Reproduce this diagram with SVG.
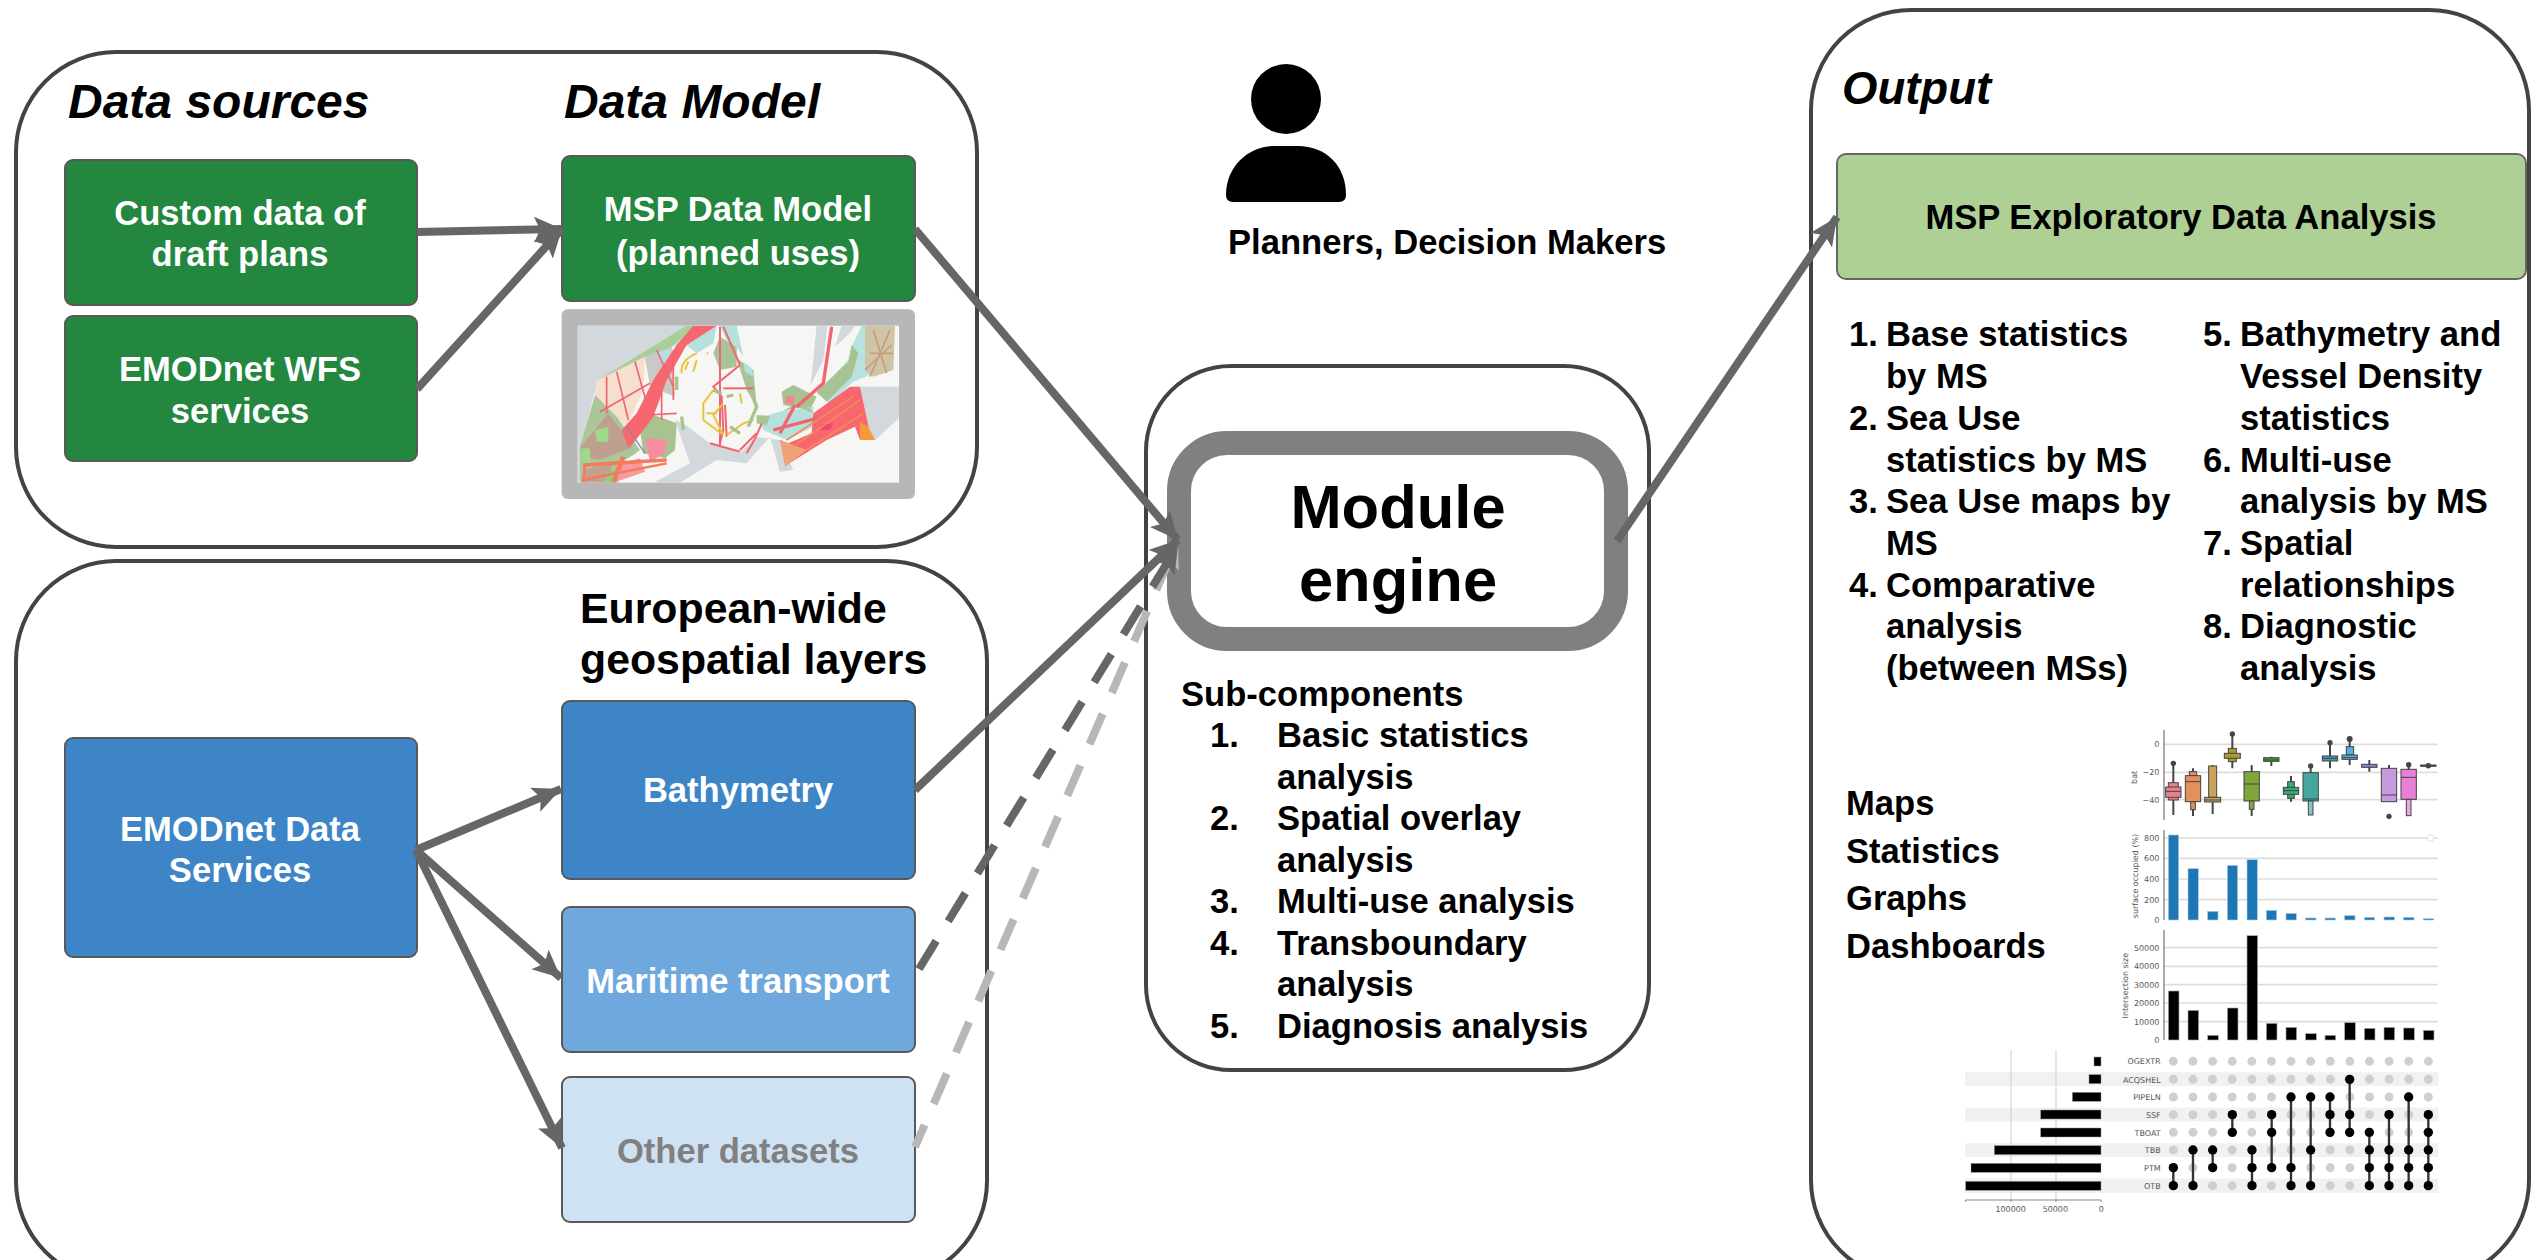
<svg xmlns="http://www.w3.org/2000/svg" width="2547" height="1260" viewBox="0 0 2547 1260">
<style>
text{font-family:"Liberation Sans",Arial,sans-serif;font-weight:700;fill:#000}
.t{font-size:34.6px}
.w{fill:#fff;font-size:34.6px;text-anchor:middle}
.h{font-size:48px;font-style:italic}
.e{font-size:42.8px}
.p{fill:#fff;stroke:#434343;stroke-width:4}
.n{stroke:#595959;stroke-width:2}
.c{fill:none;stroke:#666;stroke-width:8}
.d,.d text{font-family:"DejaVu Sans",sans-serif;font-weight:400;fill:#555}
.g{stroke:#ddd;stroke-width:5;fill:none}
.b{stroke:#444;stroke-width:3}
.m{fill:none;stroke:#f0656f}
</style>
<defs>
<marker id="a" markerUnits="userSpaceOnUse" markerWidth="32" markerHeight="32" refX="28" refY="13" orient="auto"><path d="M28,13 L0,0 L6,13 L0,26 Z" fill="#666"/></marker>
<marker id="l" markerUnits="userSpaceOnUse" markerWidth="32" markerHeight="32" refX="28" refY="13" orient="auto"><path d="M28,13 L0,0 L6,13 L0,26 Z" fill="#b7b7b7"/></marker>
<filter id="bl" x="-5%" y="-5%" width="110%" height="110%"><feGaussianBlur stdDeviation="2.2"/></filter>
<filter id="bc" x="-2%" y="-2%" width="104%" height="104%"><feGaussianBlur stdDeviation="0.45"/></filter>
<clipPath id="mc"><rect x="113" y="107" width="964" height="471"/></clipPath>
</defs>
<g id="panel-sources"><rect class="p" x="16" y="52" width="961" height="495" rx="100"/></g>
<g id="panel-layers"><rect class="p" x="16" y="561" width="971" height="720" rx="100"/></g>
<g id="panel-module"><rect class="p" x="1146" y="366" width="503" height="704" rx="85"/></g>
<g id="panel-output"><rect class="p" x="1811" y="10" width="718" height="1270" rx="100"/></g>

<g id="title-sources"><text class="h" x="68" y="118">Data sources</text></g>
<g id="title-model"><text class="h" x="564" y="118">Data Model</text></g>
<g id="title-layers"><text class="e" x="580" y="623">European-wide</text><text class="e" x="580" y="674">geospatial layers</text></g>
<g id="title-output"><text class="h" x="1842" y="104" style="font-size:45.5px">Output</text></g>

<g id="node-custom"><rect class="n" x="65" y="160" width="352" height="145" rx="8" fill="#23873f"/><text class="w" x="240" y="225">Custom data of</text><text class="w" x="240" y="266">draft plans</text></g>
<g id="node-wfs"><rect class="n" x="65" y="316" width="352" height="145" rx="8" fill="#23873f"/><text class="w" x="240" y="381">EMODnet WFS</text><text class="w" x="240" y="423">services</text></g>
<g id="node-msp"><rect class="n" x="562" y="156" width="353" height="145" rx="8" fill="#23873f"/><text class="w" x="738" y="221">MSP Data Model</text><text class="w" x="738" y="265">(planned uses)</text></g>

<g id="node-map" transform="translate(540 290) scale(.33333)">
<rect x="65" y="58" width="1060" height="569" rx="18" fill="#b7b7b7"/>
<rect x="113" y="107" width="964" height="471" fill="#f6f6f4"/>
<g clip-path="url(#mc)"><g filter="url(#bl)">
<path d="M113,107H470L180,265L160,320L125,460L113,500Z" fill="#d2d8dc"/>
<path d="M113,460L125,470V578H113Z" fill="#d2d8dc"/>
<path d="M960,290H1077V385L1005,450L990,430Z" fill="#d2d8dc"/>
<path d="M405,390L450,520L340,578H420L530,510L620,520L690,440L720,545L760,540L720,450L650,440L600,490L510,460L430,400Z" fill="#d2d8dc"/>
<path d="M830,107L812,285L850,210L862,107Z" fill="#d2d8dc"/>
<path d="M905,107L885,170L930,130L945,107Z" fill="#d2d8dc"/>
<path d="M170,270L315,200L310,300L250,430L225,400L165,320Z" fill="#f7dfcf"/>
<path d="M170,272L440,107H475L320,230L315,200Z" fill="#a9cf98"/>
<path d="M315,200L395,170L405,320L330,290Z" fill="#c9c9c5"/>
<path d="M350,190L390,175V240L370,235Z" fill="#b5dfe6"/>
<path d="M395,175L420,150L470,190L520,160L530,107H480L420,160Z" fill="#b5e0dc"/>
<path d="M120,470L165,315L230,380L300,480L280,495L140,578H120Z" fill="#a9c79a"/>
<path d="M122,470L205,370L280,470L180,510L130,500Z" fill="#bfa08e"/>
<path d="M165,420L205,410V455L170,455Z" fill="#9ed98e"/>
<path d="M125,475H150V520H125Z" fill="#9ed98e"/>
<path d="M300,360L410,400L405,480L375,505L310,490L300,420Z" fill="#a8c390"/>
<path d="M315,445L380,450L375,490L330,515Z" fill="#f58fa0"/>
<path d="M225,525L300,505L315,545L220,578Z" fill="#f59aa0"/>
<path d="M130,540L220,515L210,578H135Z" fill="#c4a08e"/>
<path d="M190,578L225,525L235,578Z" fill="#8cd07f"/>
<path d="M245,420L290,370L340,270L410,165L460,107H530L440,165L380,270L340,380L280,460L265,470Z" fill="#f8666f"/>
<path d="M520,190L540,140L590,170L590,230L540,240Z" fill="#a8c39a"/>
<path d="M540,107H590L610,200L590,170L560,150Z" fill="#b5e0dc"/>
<path d="M590,205L640,240L650,350L620,300Z" fill="#a8c39a"/>
<path d="M610,215L635,235L640,260L615,245Z" fill="#b5e0dc"/>
<path d="M830,310L925,210L935,170L965,107H1000L1000,250L940,275L870,340Z" fill="#b7e2dd"/>
<path d="M830,305L925,215L935,165L955,190L935,260L860,335Z" fill="#a7c293"/>
<path d="M975,107H1065L1060,240L1000,260L975,240Z" fill="#cfc4a8"/>
<path d="M725,305L760,285L830,320L810,360L730,345Z" fill="#a7c293"/>
<path d="M738,320L765,315L760,345L735,340Z" fill="#ee8a8f"/>
<path d="M650,385L720,365L820,350L820,410L740,450L670,420Z" fill="#b5e0dc"/>
<path d="M650,375L690,378L680,405L650,400Z" fill="#a7c293"/>
<path d="M725,365L760,345L820,370L810,355L760,355Z" fill="#a7c293"/>
<path d="M745,460L815,430L820,370L930,290L960,290L990,430L1005,450L960,450L945,410L860,450L740,525L720,450Z" fill="#f8666f"/>
<path d="M720,450L800,480L735,530Z" fill="#efa278"/>
<path d="M840,405L880,400L870,420L845,420Z" fill="#f04770"/>
<path d="M960,395L985,410L1005,450L960,450Z" fill="#f59b3a"/>
<g class="m" stroke-width="5"><path d="M200,260V370"/><path d="M230,245L265,390"/><path d="M285,215L320,340"/><path d="M180,365L330,280"/><path d="M350,180L400,290"/><path d="M365,300V390"/><path d="M400,180V330"/><path d="M320,375L410,370"/></g>
<path d="M130,525L380,510" stroke="#f47a5c" stroke-width="10" fill="none"/>
<path d="M125,570L380,520" stroke="#f47a5c" stroke-width="7" fill="none"/>
<path d="M135,520L130,578" stroke="#f47a5c" stroke-width="8" fill="none"/>
<path d="M220,578L250,500" stroke="#f47a5c" stroke-width="14" fill="none"/>
<path d="M260,410L315,490" stroke="#7d8ca0" stroke-width="4" fill="none"/>
<g fill="none" stroke="#f0656f" stroke-width="6"><path d="M540,110V420L540,465"/><path d="M600,225L520,290L545,320L550,420L540,460"/><path d="M550,110L600,225"/><path d="M550,295H640"/><path d="M600,480L650,430"/><path d="M555,345L560,440"/><path d="M510,460L600,485"/></g>
<g fill="none" stroke="#e8c43c" stroke-width="6"><path d="M425,250Q420,210 470,190"/><path d="M470,210L460,245"/><path d="M500,190H505M435,240L445,215"/><path d="M520,300L490,340L490,390L550,435L520,375L550,340"/><path d="M560,435L610,400L640,390"/><path d="M600,310L605,340"/><path d="M500,370H530"/></g>
<g fill="none" stroke="#a9c389" stroke-width="10"><path d="M630,300L650,350L625,410"/><path d="M425,380L430,420"/><path d="M570,410L600,430"/><path d="M560,320L580,315"/><path d="M410,260V300"/><path d="M520,300L545,310"/></g>
<g fill="none" stroke="#f0656f" stroke-width="10"><path d="M720,430L765,345"/><path d="M700,420L830,385"/><path d="M770,350L850,280L875,110"/></g>
<g fill="none" stroke="#f58a55" stroke-width="5"><path d="M760,470L960,330"/><path d="M800,480L970,370"/><path d="M740,450L940,320"/><path d="M990,260L1050,120M1000,120L1040,250M990,190H1060M975,240L1055,165" stroke="#c79e78"/></g>
<path d="M620,490Q650,440 665,400" stroke="#f0656f" stroke-width="6" fill="none"/>
</g></g>
</g>

<g id="node-data"><rect class="n" x="65" y="738" width="352" height="219" rx="8" fill="#3d85c6"/><text class="w" x="240" y="841">EMODnet Data</text><text class="w" x="240" y="882">Services</text></g>
<g id="node-bathy"><rect class="n" x="562" y="701" width="353" height="178" rx="8" fill="#3d85c6"/><text class="w" x="738" y="802">Bathymetry</text></g>
<g id="node-maritime"><rect class="n" x="562" y="907" width="353" height="145" rx="8" fill="#6fa8dc"/><text class="w" x="738" y="993">Maritime transport</text></g>
<g id="node-other"><rect class="n" x="562" y="1077" width="353" height="145" rx="8" fill="#cfe2f3"/><text class="w" x="738" y="1163" style="fill:#808080">Other datasets</text></g>

<g id="node-people"><circle cx="1286" cy="99" r="35"/><path d="M1233,202Q1226,202 1226,195C1226,165 1250,146 1274,146H1298C1325,146 1346,165 1346,195Q1346,202 1339,202Z"/><text class="t" x="1228" y="254">Planners, Decision Makers</text></g>

<g id="node-engine"><rect x="1179" y="443" width="437" height="196" rx="48" fill="#fff" stroke="#808080" stroke-width="24"/><text x="1398" y="528" text-anchor="middle" style="font-size:61.5px">Module</text><text x="1398" y="601" text-anchor="middle" style="font-size:61.5px">engine</text></g>
<g id="list-sub">
<text class="t" x="1181" y="706">Sub-components</text>
<text class="t" x="1210" y="747">1.</text><text class="t" x="1277" y="747">Basic statistics</text><text class="t" x="1277" y="789">analysis</text>
<text class="t" x="1210" y="830">2.</text><text class="t" x="1277" y="830">Spatial overlay</text><text class="t" x="1277" y="872">analysis</text>
<text class="t" x="1210" y="913">3.</text><text class="t" x="1277" y="913">Multi-use analysis</text>
<text class="t" x="1210" y="955">4.</text><text class="t" x="1277" y="955">Transboundary</text><text class="t" x="1277" y="996">analysis</text>
<text class="t" x="1210" y="1038">5.</text><text class="t" x="1277" y="1038">Diagnosis analysis</text>
</g>

<g id="node-eda"><rect x="1837" y="154" width="689" height="125" rx="9" fill="#aed094" stroke="#666" stroke-width="2"/><text class="t" x="2181" y="229" text-anchor="middle">MSP Exploratory Data Analysis</text></g>
<g id="list-left">
<text class="t" x="1849" y="346">1.</text><text class="t" x="1886" y="346">Base statistics</text><text class="t" x="1886" y="388">by MS</text>
<text class="t" x="1849" y="430">2.</text><text class="t" x="1886" y="430">Sea Use</text><text class="t" x="1886" y="472">statistics by MS</text>
<text class="t" x="1849" y="513">3.</text><text class="t" x="1886" y="513">Sea Use maps by</text><text class="t" x="1886" y="555">MS</text>
<text class="t" x="1849" y="597">4.</text><text class="t" x="1886" y="597">Comparative</text><text class="t" x="1886" y="638">analysis</text><text class="t" x="1886" y="680">(between MSs)</text>
</g>
<g id="list-right">
<text class="t" x="2203" y="346">5.</text><text class="t" x="2240" y="346">Bathymetry and</text><text class="t" x="2240" y="388">Vessel Density</text><text class="t" x="2240" y="430">statistics</text>
<text class="t" x="2203" y="472">6.</text><text class="t" x="2240" y="472">Multi-use</text><text class="t" x="2240" y="513">analysis by MS</text>
<text class="t" x="2203" y="555">7.</text><text class="t" x="2240" y="555">Spatial</text><text class="t" x="2240" y="597">relationships</text>
<text class="t" x="2203" y="638">8.</text><text class="t" x="2240" y="638">Diagnostic</text><text class="t" x="2240" y="680">analysis</text>
</g>
<g id="list-outputs">
<text class="t" x="1846" y="815">Maps</text><text class="t" x="1846" y="863">Statistics</text><text class="t" x="1846" y="910">Graphs</text><text class="t" x="1846" y="958">Dashboards</text>
</g>

<g id="charts" transform="translate(2100 720) scale(.33333)">
<g filter="url(#bc)">
<g class="g"><path d="M192,73H1013M192,157H1013M192,239H1013"/><path d="M192,354H1013M192,415H1013M192,477H1013M192,539H1013"/><path d="M192,683H1013M192,739H1013M192,794H1013M192,849H1013M192,905H1013"/></g>
<g fill="none" stroke="#555" stroke-width="3"><path d="M192,30V300M192,330V600M192,630V960"/></g>
<circle cx="992" cy="354" r="10" fill="#fff" stroke="#ddd" stroke-width="3"/>
<g stroke="#444" stroke-width="6" fill="none"><path d="M220,130V285M279,145V288M338,135V282M397,40V145M455,135V288M514,110V138M573,168V245M632,135V160M690,65V145M749,50V135M808,120V155M867,135V150M926,130V150M985,130V145"/></g>
<g fill="#444"><circle cx="220" cy="130" r="8"/><circle cx="397" cy="42" r="8"/><circle cx="632" cy="138" r="8"/><circle cx="690" cy="68" r="8"/><circle cx="749" cy="57" r="9"/><circle cx="867" cy="289" r="8"/><circle cx="926" cy="134" r="8"/><circle cx="985" cy="137" r="8"/></g>
<g class="b">
<rect x="205" y="188" width="30" height="52" fill="#e8808a"/><rect x="197" y="201" width="46" height="31" fill="#e8808a"/>
<rect x="272" y="245" width="14" height="24" fill="#e58f5c"/><rect x="268" y="155" width="22" height="12" fill="#e58f5c"/><rect x="256" y="167" width="46" height="78" fill="#e58f5c"/>
<rect x="326" y="138" width="24" height="94" fill="#c9a35a"/><rect x="314" y="232" width="48" height="14" fill="#c9a35a"/>
<rect x="385" y="85" width="24" height="40" fill="#a79b35"/><rect x="373" y="100" width="48" height="15" fill="#a79b35"/>
<rect x="432" y="155" width="46" height="88" fill="#7fa63a"/><rect x="448" y="243" width="14" height="25" fill="#7fa63a"/>
<rect x="491" y="113" width="46" height="11" fill="#3c9b3c"/>
<rect x="563" y="185" width="20" height="50" fill="#3aa87a"/><rect x="550" y="202" width="46" height="21" fill="#3aa87a"/>
<rect x="609" y="158" width="46" height="85" fill="#45a8a0"/><rect x="625" y="243" width="14" height="42" fill="#7fc8c4"/>
<rect x="667" y="108" width="46" height="15" fill="#3f9fb5"/>
<rect x="739" y="80" width="22" height="25" fill="#55b0dc"/><rect x="726" y="105" width="46" height="13" fill="#55b0dc"/>
<rect x="785" y="133" width="46" height="9" fill="#7f88c9"/>
<rect x="844" y="145" width="46" height="100" fill="#c49ae0"/>
<rect x="903" y="148" width="46" height="90" fill="#e880d8"/><rect x="919" y="238" width="14" height="49" fill="#f0a8e4"/>
<rect x="962" y="135" width="46" height="4" fill="#555"/>
<path d="M197,214H243M256,185H302M314,240H362M432,192H478M550,212H596M609,237H655M667,115H713M726,113H772M844,225H890M903,172H949M491,120H537" fill="none"/>
</g>
<g fill="#1f77b4" stroke="#a8cde6" stroke-width="2">
<rect x="205" y="345" width="31" height="255"/><rect x="264" y="446" width="31" height="154"/><rect x="323" y="574" width="31" height="26"/><rect x="382" y="436" width="31" height="164"/><rect x="441" y="419" width="31" height="181"/><rect x="499" y="571" width="31" height="29"/><rect x="558" y="580" width="31" height="20"/><rect x="617" y="594" width="31" height="6"/><rect x="675" y="594" width="31" height="6"/><rect x="734" y="587" width="31" height="13"/><rect x="793" y="592" width="31" height="8"/><rect x="852" y="591" width="31" height="9"/><rect x="911" y="592" width="31" height="8"/><rect x="970" y="596" width="31" height="4"/>
</g>
<g fill="#000" stroke="#aaa" stroke-width="2">
<rect x="205" y="813" width="32" height="147"/><rect x="264" y="871" width="32" height="89"/><rect x="323" y="946" width="32" height="14"/><rect x="382" y="864" width="32" height="96"/><rect x="441" y="647" width="32" height="313"/><rect x="499" y="910" width="32" height="50"/><rect x="558" y="922" width="32" height="38"/><rect x="617" y="941" width="32" height="19"/><rect x="675" y="946" width="32" height="14"/><rect x="734" y="908" width="32" height="52"/><rect x="793" y="925" width="32" height="35"/><rect x="852" y="922" width="32" height="38"/><rect x="911" y="924" width="32" height="36"/><rect x="970" y="931" width="32" height="29"/>
</g>
</g>
<g class="d" font-size="24" text-anchor="end"><text x="178" y="82">0</text><text x="178" y="166">−20</text><text x="178" y="248">−40</text>
<text x="178" y="363">800</text><text x="178" y="424">600</text><text x="178" y="486">400</text><text x="178" y="548">200</text><text x="178" y="610">0</text>
<text x="178" y="692">50000</text><text x="178" y="748">40000</text><text x="178" y="803">30000</text><text x="178" y="858">20000</text><text x="178" y="914">10000</text><text x="178" y="969">0</text></g>
<text class="d" font-size="24" transform="translate(111 172) rotate(-90)" text-anchor="middle">bat</text>
<text class="d" font-size="24" transform="translate(115 468) rotate(-90)" text-anchor="middle">surface occupied (%)</text>
<text class="d" font-size="24" transform="translate(83 797) rotate(-90)" text-anchor="middle">Intersection size</text>
</g>

<g id="upset" transform="translate(1950 1030) scale(.33333)">
<g filter="url(#bc)">
<g fill="#f1f1f1"><rect x="45" y="127" width="1420" height="41"/><rect x="45" y="233" width="1420" height="41"/><rect x="45" y="340" width="1420" height="41"/><rect x="45" y="446" width="1420" height="43"/></g>
<path d="M183,60V510M318,60V510" stroke="#ccc" stroke-width="3" fill="none"/>
<path d="M47,510H453M47,510V516M183,510V516M318,510V516M453,510V516" stroke="#888" stroke-width="3" fill="none"/>
<g fill="#000" stroke="#999" stroke-width="1.5"><rect x="432" y="81" width="21" height="27"/><rect x="417" y="134" width="36" height="27"/><rect x="367" y="187" width="86" height="27"/><rect x="272" y="240" width="181" height="27"/><rect x="272" y="294" width="181" height="27"/><rect x="133" y="347" width="320" height="27"/><rect x="63" y="400" width="390" height="27"/><rect x="47" y="454" width="406" height="27"/></g>
<g fill="none" stroke="#cfcfcf" stroke-width="27" stroke-linecap="round" stroke-dasharray="0 58.85"><path d="M670,94H1440M670,148H1440M670,201H1440M670,254H1440M670,307H1440M670,360H1440M670,413H1440M670,467H1440"/></g>
<g stroke="#333" stroke-width="7" fill="none"><path d="M670,413V467M729,360V467M788,360V413M847,254V307M906,360V467M965,254V413M1023,201V467M1082,201V467M1140,201V307M1199,148V307M1258,307V467M1317,254V467M1376,201V467M1435,254V467"/></g>
<g fill="#000">
<circle cx="670" cy="413" r="14"/><circle cx="670" cy="467" r="14"/>
<circle cx="729" cy="360" r="14"/><circle cx="729" cy="467" r="14"/>
<circle cx="788" cy="360" r="14"/><circle cx="788" cy="413" r="14"/>
<circle cx="847" cy="254" r="14"/><circle cx="847" cy="307" r="14"/>
<circle cx="906" cy="360" r="14"/><circle cx="906" cy="413" r="14"/><circle cx="906" cy="467" r="14"/>
<circle cx="965" cy="254" r="14"/><circle cx="965" cy="307" r="14"/><circle cx="965" cy="413" r="14"/>
<circle cx="1023" cy="201" r="14"/><circle cx="1023" cy="413" r="14"/><circle cx="1023" cy="467" r="14"/>
<circle cx="1082" cy="201" r="14"/><circle cx="1082" cy="360" r="14"/><circle cx="1082" cy="467" r="14"/>
<circle cx="1140" cy="201" r="14"/><circle cx="1140" cy="254" r="14"/><circle cx="1140" cy="307" r="14"/>
<circle cx="1199" cy="148" r="14"/><circle cx="1199" cy="254" r="14"/><circle cx="1199" cy="307" r="14"/>
<circle cx="1258" cy="307" r="14"/><circle cx="1258" cy="360" r="14"/><circle cx="1258" cy="413" r="14"/><circle cx="1258" cy="467" r="14"/>
<circle cx="1317" cy="254" r="14"/><circle cx="1317" cy="360" r="14"/><circle cx="1317" cy="413" r="14"/><circle cx="1317" cy="467" r="14"/>
<circle cx="1376" cy="201" r="14"/><circle cx="1376" cy="360" r="14"/><circle cx="1376" cy="413" r="14"/><circle cx="1376" cy="467" r="14"/>
<circle cx="1435" cy="254" r="14"/><circle cx="1435" cy="307" r="14"/><circle cx="1435" cy="360" r="14"/><circle cx="1435" cy="413" r="14"/><circle cx="1435" cy="467" r="14"/>
</g>
</g>
<g class="d" font-size="24" text-anchor="end"><text x="632" y="103">OGEXTR</text><text x="632" y="158">ACQSHEL</text><text x="632" y="211">PIPELN</text><text x="632" y="264">SSF</text><text x="632" y="317">TBOAT</text><text x="632" y="370">TBB</text><text x="632" y="423">PTM</text><text x="632" y="477">OTB</text></g>
<g class="d" font-size="24" text-anchor="middle"><text x="182" y="545">100000</text><text x="316" y="545">50000</text><text x="454" y="545">0</text></g>
</g>

<g id="connectors">
<path class="c" d="M417,232L562,229" marker-end="url(#a)"/>
<path class="c" d="M417,389L562,229" marker-end="url(#a)"/>
<path class="c" d="M915,229L1178,540" marker-end="url(#a)"/>
<path d="M915,1147L1178,540" fill="none" stroke="#b7b7b7" stroke-width="8" stroke-dasharray="33 23" stroke-dashoffset="9" marker-end="url(#l)"/>
<path d="M919,969L1178,545" fill="none" stroke="#666" stroke-width="8" stroke-dasharray="33 23" marker-end="url(#a)"/>
<path class="c" d="M915,790L1178,540" marker-end="url(#a)"/>
<path class="c" d="M416,850L561,789" marker-end="url(#a)"/>
<path class="c" d="M416,850L561,978" marker-end="url(#a)"/>
<path class="c" d="M416,850L562,1148" marker-end="url(#a)"/>
<path class="c" d="M1617,541L1837,217" marker-end="url(#a)"/>
</g>
</svg>
